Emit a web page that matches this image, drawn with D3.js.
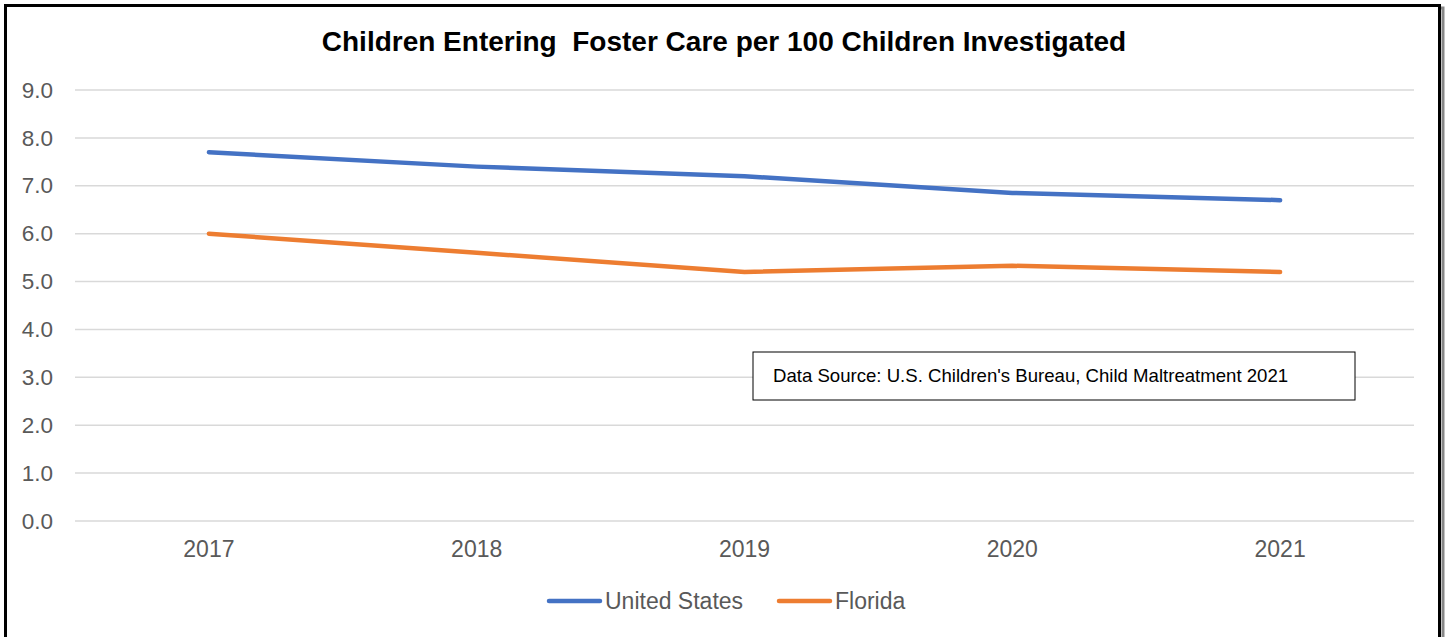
<!DOCTYPE html>
<html>
<head>
<meta charset="utf-8">
<script src="https://cdn.jsdelivr.net/npm/d3@7"></script>
<style>
  body { margin: 0; background: #fff; }
  text { font-family: "Liberation Sans", Arial, sans-serif; }
</style>
</head>
<body>
<div id="chart"></div>
<script>
var years = ["2017", "2018", "2019", "2020", "2021"];
var usValues = [7.7, 7.4, 7.2, 6.85, 6.7];
var flValues = [6.0, 5.6, 5.2, 5.33, 5.2];
var seriesNames = ["United States", "Florida"];
var yTicks = [0, 1, 2, 3, 4, 5, 6, 7, 8, 9];

(function() {
  var W = 1448, H = 637;
  var margin = { top: 90, left: 75, right: 34, bottom: 116 };
  var width = W - margin.left - margin.right,
      height = H - margin.top - margin.bottom;

  var svg = d3.select("#chart").append("svg")
      .attr("width", W)
      .attr("height", H);

  // outer frame with little shadow
  svg.append("rect")
      .attr("x", 8).attr("y", 8)
      .attr("width", 1435).attr("height", 660)
      .attr("fill", "none").attr("stroke", "#888").attr("stroke-width", 3)
  svg.append("rect")
      .attr("x", 5.5).attr("y", 5.5)
      .attr("width", 1434).attr("height", 660)
      .attr("fill", "#fff").attr("stroke", "#000").attr("stroke-width", 3)

  var g = svg.append("g")
      .attr("transform", "translate(" + margin.left + "," + margin.top + ")")

  var x = d3.scaleBand()
      .domain(years)
      .range([0, width])

  var y = d3.scaleLinear()
      .domain([0, 9])
      .range([height, 0])

  // gridlines
  g.selectAll(".grid")
      .data(yTicks)
      .enter().append("line")
      .attr("x1", 0).attr("x2", width)
      .attr("y1", function(d) { return y(d) })
      .attr("y2", function(d) { return y(d) })
      .attr("stroke", "#d9d9d9")
      .attr("stroke-width", 1.5)

  var yAxis = g.append("g")
      .call(d3.axisLeft(y).tickValues(yTicks).tickFormat(d3.format(".1f")).tickSize(0).tickPadding(22))
  yAxis.select(".domain").remove()
  yAxis.selectAll("text")
      .attr("font-size", "22.5px")
      .attr("fill", "#595959")
      .style("font-family", "'Liberation Sans', Arial, sans-serif")

  var xAxis = g.append("g")
      .attr("transform", "translate(0," + height + ")")
      .call(d3.axisBottom(x).tickSize(0).tickPadding(20))
  xAxis.select(".domain").remove()
  xAxis.selectAll("text")
      .attr("font-size", "23px")
      .attr("fill", "#595959")
      .style("font-family", "'Liberation Sans', Arial, sans-serif")

  var colors = ["#4472C4", "#ED7D31"];
  var series = [usValues, flValues];

  var line = d3.line()
      .x(function(d, i) { return x(years[i]) + x.bandwidth() / 2 })
      .y(function(d) { return y(d) })

  series.forEach(function(vals, i) {
    g.append("path")
        .datum(vals)
        .attr("d", line)
        .attr("fill", "none")
        .attr("stroke", colors[i])
        .attr("stroke-width", 4.5)
        .attr("stroke-linecap", "round")
        .attr("stroke-linejoin", "round")
  })

  // source note box
  var noteBox = svg.append("g").attr("transform", "translate(753,352)")
  noteBox.append("rect")
      .attr("width", 602).attr("height", 48)
      .attr("fill", "#fff").attr("stroke", "#000").attr("stroke-width", 1)
  noteBox.append("text")
      .attr("x", 20).attr("y", 30)
      .attr("font-size", "18.6px")
      .attr("fill", "#000")
      .text("Data Source: U.S. Children's Bureau, Child Maltreatment 2021")

  // title
  svg.append("text")
      .attr("x", 724).attr("y", 51)
      .attr("text-anchor", "middle")
      .attr("font-size", "28px")
      .attr("font-weight", "bold")
      .attr("fill", "#000")
      .style("white-space", "pre")
      .text("Children Entering  Foster Care per 100 Children Investigated")

  // legend
  var legendX = [547, 777];
  seriesNames.forEach(function(name, i) {
    var lg = svg.append("g").attr("transform", "translate(" + legendX[i] + ",601)")
    lg.append("line")
        .attr("x1", 2).attr("x2", 53)
        .attr("stroke", colors[i])
        .attr("stroke-width", 4.5)
        .attr("stroke-linecap", "round")
    lg.append("text")
        .attr("x", 58).attr("y", 8)
        .attr("font-size", "23px")
        .attr("fill", "#595959")
        .text(name)
  })
})();
</script>
</body>
</html>
